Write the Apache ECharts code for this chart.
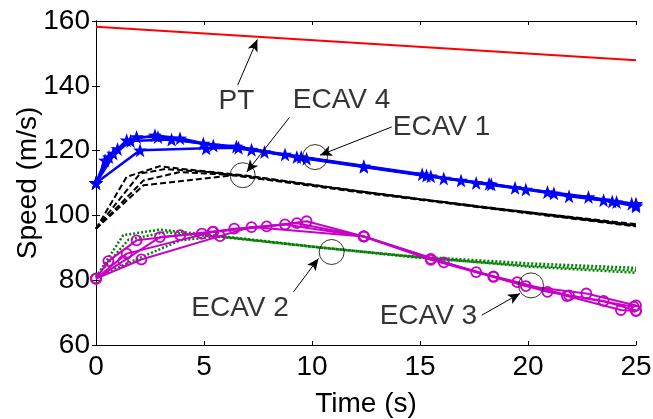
<!doctype html>
<html>
<head>
<meta charset="UTF-8">
<title>Speed</title>
<script src="https://cdn.jsdelivr.net/npm/echarts@6/dist/echarts.min.js"></script>
<style>
  html, body { margin: 0; padding: 0; background: #fff; }
  #main { width: 653px; height: 419px; }
</style>
</head>
<body>
<div id="main"></div>
<script>
// PT reference line
var ptLine = [[0, 158.2], [25, 147.9]];

// ECAV 1 (blue, stars)
var ecav1Runs = [
  [[0,110],[0.42,117],[0.8,119.1],[1.42,123.2],[2.73,124.7],[3.89,123.8],[5.43,121.6],[7.2,120.3],[9.3,118],[12.4,115.2],[15.5,112.1],[17.6,110],[19.9,108],[21.9,105.9],[24.1,104.1],[25,103.2]],
  [[0,110],[0.6,118],[1.88,124.2],[2.87,124.2],[4.97,122.2],[6.5,121.3],[8.75,118.8],[15.1,112.7],[16.9,110.8],[19.4,108.5],[22.8,105.7],[24.8,103.6]],
  [[0,110],[1.0,120.5],[1.6,123],[3.5,123.4],[7.8,119.6],[9.75,117.5],[16.1,111.4],[18.2,109.8],[20.9,107.2],[23.5,104.7],[25,102.8]],
  [[0,110],[2.04,120.1],[5.1,120.7],[6.6,120.9],[9.5,118],[12.4,115],[15.3,112.3],[18.3,109.6],[21.2,106.8],[23.9,104.3],[25,103.6]]
];

// ECAV 4 (black, dashed)
var ecav4Runs = [
  [[0,95.9],[1.42,111.9],[2.96,115.2],[3.9,114.4],[6.8,112.4],[12.2,107.4],[18.5,102],[25,96.8]],
  [[0,95.9],[2.2,110.8],[3.9,113.4],[7,112.2],[12,107.6],[18,102.5],[25,97.3]],
  [[0,95.9],[2.2,109.3],[6.35,112.4],[12,107.3],[18,102.3],[25,96.6]],
  [[0,95.9],[2.04,112.9],[3.2,114.3],[5.2,113.4],[9,110.2],[15,105],[21,100.2],[25,97]]
];

// ECAV 2 (green, dotted)
var ecav2Runs = [
  [[0,81],[1.26,93.9],[2.96,95.6],[4.5,94.5],[10.2,90.2],[14.1,87.6],[20,85.2],[25,83.8]],
  [[0,81],[1.5,92.5],[3.2,94.8],[6,93.2],[10.5,90],[15,87.1],[20,84.2],[25,82.3]],
  [[0,81],[3.9,92.3],[5.74,93.6],[10,90.4],[15,86.9],[20,84.5],[25,83]]
];

// ECAV 3 (magenta, circles)
var ecav3Runs = [
  [[0,80.5],[0.57,85.9],[1.88,92.3],[3.9,93.9],[5.43,95],[7.9,96.6],[9.75,98.2],[12.4,93.5],[15.5,86.3],[18.4,81],[20.9,76.4],[23.5,73.6],[25,70.6]],
  [[0,80.5],[1.26,85.9],[2.96,93.3],[4.9,94.4],[6.4,95.9],[9.3,97.6],[12.4,93.5],[16.1,85.5],[19.9,78.2],[22.7,75.9],[25,72.2]],
  [[0,80.5],[1.42,88.2],[5.4,94.9],[8.75,97.2],[12.4,93.5],[17.6,82.5],[19.5,79.4],[21.8,75.1],[24.3,70.8],[25,70.5]],
  [[0,80.5],[2.1,86.4],[5.74,93.6],[7.2,96.4],[12.4,93.5],[15.5,86.6],[18.4,81.2],[21.9,75.3],[24.9,71.8]]
];

// annotations (data coords)
var annoTexts = ['PT', 'ECAV 4', 'ECAV 1', 'ECAV 2', 'ECAV 3'];
var annoTextPos = [[6.5,135.1],[11.37,135.5],[16.0,127.3],[6.67,71.3],[15.39,68.9]];
var arrowFrom = [[6.56,140.2],[8.95,130.2],[13.69,127.3],[9.14,76.4],[17.86,69.2]];
var arrowTo = [[7.47,154.3],[6.98,113.4],[10.37,118.6],[10.3,86.7],[19.63,75.9]];
var circlePos = [[6.79,112.4],[10.14,118.0],[10.91,88.7],[20.14,78.4]];

var xTicks = [0, 25, 5];
var yTicks = [60, 160, 20];

var FONT = 'Liberation Sans';
var starPath = 'path://M0,-10L2.35,-3.24L9.51,-3.09L3.8,1.24L5.88,8.09L0,4L-5.88,8.09L-3.8,1.24L-9.51,-3.09L-2.35,-3.24Z';

var chart = echarts.init(document.getElementById('main'));

var series = [];
series.push({
  type: 'line', data: ptLine, symbol: 'none',
  lineStyle: { color: '#ff0000', width: 2 }, z: 3
});
ecav2Runs.forEach(function (d) {
  series.push({ type: 'line', data: d, symbol: 'none',
    lineStyle: { color: '#008000', width: 2.5, type: [2, 2] }, z: 2 });
});
ecav4Runs.forEach(function (d) {
  series.push({ type: 'line', data: d, symbol: 'none',
    lineStyle: { color: '#000000', width: 2, type: [6, 3] }, z: 2 });
});
ecav1Runs.forEach(function (d) {
  series.push({ type: 'line', data: d, symbol: starPath, symbolSize: 14,
    showAllSymbol: true,
    itemStyle: { color: '#0000ff' },
    lineStyle: { color: '#0000ff', width: 2.5 }, z: 3 });
});
ecav3Runs.forEach(function (d) {
  series.push({ type: 'line', data: d, symbol: 'circle', symbolSize: 10,
    showAllSymbol: true,
    itemStyle: { color: 'rgba(0,0,0,0)', borderColor: '#c800c8', borderWidth: 1.8 },
    lineStyle: { color: '#c800c8', width: 2 }, z: 3 });
});

// circles + arrows
series.push({
  type: 'scatter', data: circlePos, symbol: 'circle', symbolSize: 25,
  itemStyle: { color: 'rgba(0,0,0,0)', borderColor: '#000', borderWidth: 1 },
  z: 5,
  markLine: {
    silent: true, symbol: ['none', 'arrow'], symbolSize: [8, 12],
    label: { show: false },
    lineStyle: { color: '#000', width: 1, type: 'solid' },
    data: arrowFrom.map(function (p, i) {
      return [{ coord: p }, { coord: arrowTo[i] }];
    })
  }
});
// text labels
series.push({
  type: 'scatter', symbolSize: 1, itemStyle: { color: 'rgba(0,0,0,0)' },
  data: annoTextPos.map(function (p, i) { return [p[0], p[1], annoTexts[i]]; }),
  label: {
    show: true, position: 'inside', color: '#000',
    fontFamily: FONT, fontSize: 28,
    formatter: function (p) { return p.data[2]; }
  },
  z: 6
});

chart.setOption({
  animation: false,
  grid: { left: 96, right: 17, top: 21, bottom: 74, outerBoundsMode: 'none' },
  xAxis: [{
    type: 'value', min: xTicks[0], max: xTicks[1], interval: xTicks[2],
    name: 'Time (s)', nameLocation: 'middle', nameGap: 45, nameMoveOverlap: false,
    nameTextStyle: { fontFamily: FONT, fontSize: 28, color: '#000' },
    axisLine: { show: true, onZero: false, lineStyle: { color: '#000', width: 1 } },
    axisTick: { show: true, inside: true, length: 4, lineStyle: { color: '#000' } },
    axisLabel: { fontFamily: FONT, fontSize: 28, color: '#000', margin: 8 },
    splitLine: { show: false }
  }, {
    type: 'value', position: 'top', min: xTicks[0], max: xTicks[1], interval: xTicks[2],
    axisLine: { show: true, lineStyle: { color: '#000', width: 1 } },
    axisTick: { show: true, inside: true, length: 4, lineStyle: { color: '#000' } },
    axisLabel: { show: false }, splitLine: { show: false }
  }],
  yAxis: [{
    type: 'value', min: yTicks[0], max: yTicks[1], interval: yTicks[2],
    name: 'Speed (m/s)', nameLocation: 'middle', nameGap: 54, nameMoveOverlap: false,
    nameTextStyle: { fontFamily: FONT, fontSize: 28, color: '#000' },
    axisLine: { show: true, onZero: false, lineStyle: { color: '#000', width: 1 } },
    axisTick: { show: true, inside: true, length: 4, lineStyle: { color: '#000' } },
    axisLabel: { fontFamily: FONT, fontSize: 28, color: '#000', margin: 6 },
    splitLine: { show: false }
  }, {
    type: 'value', position: 'right', min: yTicks[0], max: yTicks[1], interval: yTicks[2],
    axisLine: { show: true, lineStyle: { color: '#000', width: 1 } },
    axisTick: { show: true, inside: true, length: 4, lineStyle: { color: '#000' } },
    axisLabel: { show: false }, splitLine: { show: false }
  }],
  series: series
});
</script>
</body>
</html>
